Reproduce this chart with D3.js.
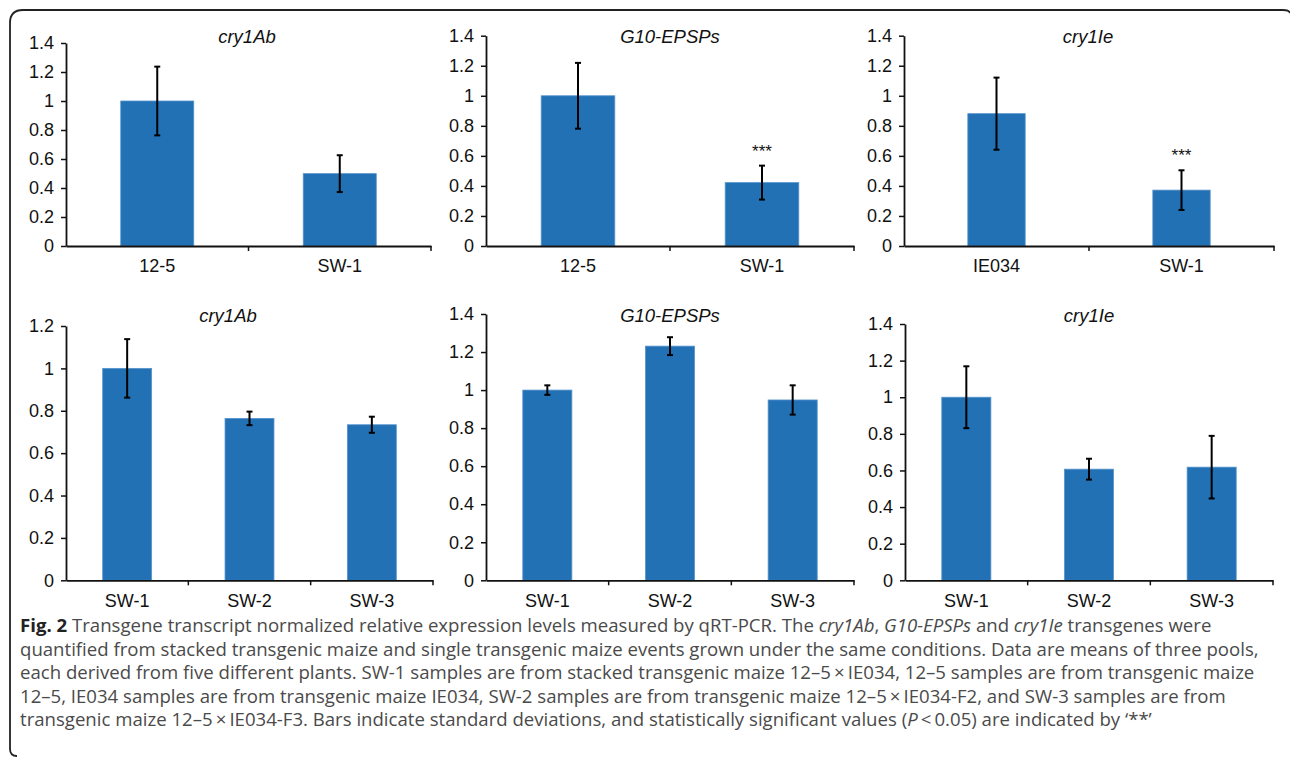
<!DOCTYPE html>
<html lang="en">
<head>
    <meta charset="UTF-8">
    <title>Fig. 2 transgene expression</title>
    <script src="https://d3js.org/d3.v7.min.js"></script>
    <style>
        body { margin: 0; background: #fff; }
        text { font-family: "Liberation Sans", Arial, sans-serif; }
    </style>
</head>
<body>
</body>
<script>
    // ---- data ----
    const titles = ["cry1Ab", "G10-EPSPs", "cry1Ie", "cry1Ab", "G10-EPSPs", "cry1Ie"];
    const categories = [
        ["12-5", "SW-1"], ["12-5", "SW-1"], ["IE034", "SW-1"],
        ["SW-1", "SW-2", "SW-3"], ["SW-1", "SW-2", "SW-3"], ["SW-1", "SW-2", "SW-3"]
    ];
    const means = [
        [1.0, 0.499], [1.0, 0.422], [0.881, 0.372],
        [1.0, 0.764, 0.734], [1.0, 1.231, 0.948], [1.0, 0.607, 0.618]
    ];
    const sds = [
        [0.237, 0.127], [0.219, 0.113], [0.240, 0.132],
        [0.138, 0.032, 0.038], [0.025, 0.047, 0.077], [0.169, 0.057, 0.171]
    ];
    const significant = [
        [false, false], [false, true], [false, true],
        [false, false, false], [false, false, false], [false, false, false]
    ];
    const yMax = [1.4, 1.4, 1.4, 1.2, 1.4, 1.4];
    const yTicks = [
        [0, 0.2, 0.4, 0.6, 0.8, 1, 1.2, 1.4],
        [0, 0.2, 0.4, 0.6, 0.8, 1, 1.2, 1.4],
        [0, 0.2, 0.4, 0.6, 0.8, 1, 1.2, 1.4],
        [0, 0.2, 0.4, 0.6, 0.8, 1, 1.2],
        [0, 0.2, 0.4, 0.6, 0.8, 1, 1.2, 1.4],
        [0, 0.2, 0.4, 0.6, 0.8, 1, 1.2, 1.4]
    ];

    // ---- layout of each panel (pixels) ----
    const panels = [
        {x0: 66, x1: 431, y0: 246, yTop: 43, titleX: 247, titleY: 42.5, barW: 0.40, labY: 272},
        {x0: 486, x1: 854, y0: 246, yTop: 35.7, titleX: 670, titleY: 42.5, barW: 0.40, labY: 272},
        {x0: 904, x1: 1274, y0: 246, yTop: 35.7, titleX: 1088, titleY: 42.5, barW: 0.31, labY: 272},
        {x0: 66, x1: 433, y0: 580.3, yTop: 326, titleX: 228, titleY: 321.5, barW: 0.40, labY: 607},
        {x0: 486, x1: 854, y0: 580.3, yTop: 314, titleX: 670, titleY: 321.5, barW: 0.40, labY: 607},
        {x0: 905, x1: 1273, y0: 580.3, yTop: 324, titleX: 1089, titleY: 321.5, barW: 0.40, labY: 607}
    ];

    const WIDTH = 1290, HEIGHT = 759;
    const BAR = "#2271b5";

    const svg = d3.select("body").append("svg").attr("width", WIDTH).attr("height", HEIGHT);

    // frame round the figure
    svg.append("path")
        .attr("d", "M17 756 Q10 756 10 749 L10 23 Q10 10 23 10 L1283 10 Q1289 10 1290 13")
        .attr("fill", "none").attr("stroke", "#222").attr("stroke-width", 1.8);

    panels.forEach((p, i) => drawPanel(p, i));

    function drawPanel(p, i) {
        const g = svg.append("g");
        const x = d3.scaleBand().domain(categories[i]).range([p.x0, p.x1]).padding(0);
        const y = d3.scaleLinear().domain([0, yMax[i]]).range([p.y0, p.yTop]);
        const rows = categories[i].map((c, k) => ({c, m: means[i][k], sd: sds[i][k], sig: significant[i][k]}));

        // bars
        const bw = x.bandwidth() * p.barW;
        g.selectAll("rect.bar").data(rows).join("rect")
            .attr("class", "bar")
            .attr("x", d => x(d.c) + x.bandwidth() / 2 - bw / 2)
            .attr("y", d => y(d.m))
            .attr("width", bw)
            .attr("height", d => y(0) - y(d.m))
            .attr("fill", BAR)
            .attr("stroke", "#5593cc").attr("stroke-width", 0.8);

        // y axis
        const yAxis = d3.axisLeft(y).tickValues(yTicks[i])
            .tickFormat(d => String(+d.toFixed(1)))
            .tickSize(5).tickSizeOuter(0).tickPadding(7);
        const ya = g.append("g").attr("transform", `translate(${p.x0},0)`).call(yAxis);
        ya.select(".domain").attr("stroke", "#111").attr("stroke-width", 1.8);
        ya.selectAll(".tick line").attr("stroke", "#111").attr("stroke-width", 1.5);
        ya.selectAll(".tick text").attr("font-size", 18).attr("fill", "#111")
            .attr("font-family", "'Liberation Sans', Arial, sans-serif");

        // x axis: labels at band centres, ticks at band edges
        const xAxis = d3.axisBottom(x).tickSize(0).tickSizeOuter(0).tickPadding(0);
        const xa = g.append("g").attr("transform", `translate(0,${p.y0})`).call(xAxis);
        xa.select(".domain").attr("stroke", "#111").attr("stroke-width", 1.8);
        xa.selectAll(".tick text").attr("font-size", 18).attr("fill", "#111")
            .attr("dy", null).attr("y", p.labY - p.y0)
            .attr("font-family", "'Liberation Sans', Arial, sans-serif");
        const edges = categories[i].slice(1).map(c => x(c)).concat([p.x1]);
        g.selectAll("line.edge").data(edges).join("line")
            .attr("class", "edge")
            .attr("x1", d => d).attr("x2", d => d)
            .attr("y1", p.y0).attr("y2", p.y0 + 5)
            .attr("stroke", "#111").attr("stroke-width", 1.5);

        // error bars
        const cap = 3;
        const eb = g.selectAll("g.err").data(rows).join("g").attr("class", "err")
            .attr("transform", d => `translate(${x(d.c) + x.bandwidth() / 2},0)`);
        eb.append("line").attr("y1", d => y(d.m - d.sd)).attr("y2", d => y(d.m + d.sd));
        eb.append("line").attr("x1", -cap).attr("x2", cap).attr("y1", d => y(d.m + d.sd)).attr("y2", d => y(d.m + d.sd));
        eb.append("line").attr("x1", -cap).attr("x2", cap).attr("y1", d => y(d.m - d.sd)).attr("y2", d => y(d.m - d.sd));
        eb.selectAll("line").attr("stroke", "#000").attr("stroke-width", 2);

        // significance marks
        g.selectAll("text.sig").data(rows.filter(d => d.sig)).join("text")
            .attr("class", "sig")
            .attr("x", d => x(d.c) + x.bandwidth() / 2)
            .attr("y", d => y(d.m + d.sd) - 9)
            .attr("text-anchor", "middle")
            .attr("font-size", 17)
            .attr("fill", "#111")
            .text("***");

        // title
        g.append("text")
            .attr("x", p.titleX).attr("y", p.titleY)
            .attr("text-anchor", "middle")
            .attr("font-size", 18.5).attr("font-style", "italic").attr("fill", "#111")
            .text(titles[i]);
    }

    // caption
    const captionLines = [
        [["Fig. 2", "b"], [" Transgene transcript normalized relative expression levels measured by qRT-PCR. The "], ["cry1Ab", "i"], [", "], ["G10-EPSPs", "i"], [" and "], ["cry1Ie", "i"], [" transgenes were"]],
        [["quantified from stacked transgenic maize and single transgenic maize events grown under the same conditions. Data are means of three pools,"]],
        [["each derived from five different plants. SW-1 samples are from stacked transgenic maize 12\u20135\u2009\u00d7\u2009IE034, 12\u20135 samples are from transgenic maize"]],
        [["12\u20135, IE034 samples are from transgenic maize IE034, SW-2 samples are from transgenic maize 12\u20135\u2009\u00d7\u2009IE034-F2, and SW-3 samples are from"]],
        [["transgenic maize 12\u20135\u2009\u00d7\u2009IE034-F3. Bars indicate standard deviations, and statistically significant values ("], ["P", "i"], ["\u2009<\u20090.05) are indicated by \u2018**\u2019"]]
    ];
    const capG = svg.append("g");
    captionLines.forEach((line, li) => {
        const t = capG.append("text")
            .attr("x", 20).attr("y", 632 + li * 23.5)
            .attr("font-size", 18.6).attr("fill", "#4a4a4a")
            .style("font-family", "'Open Sans', 'Noto Sans', sans-serif");
        line.forEach(([s, st]) => {
            const ts = t.append("tspan").text(s);
            if (st === "b") ts.attr("font-weight", 700).attr("fill", "#222");
            if (st === "i") ts.attr("font-style", "italic");
        });
    });
</script>
</html>
